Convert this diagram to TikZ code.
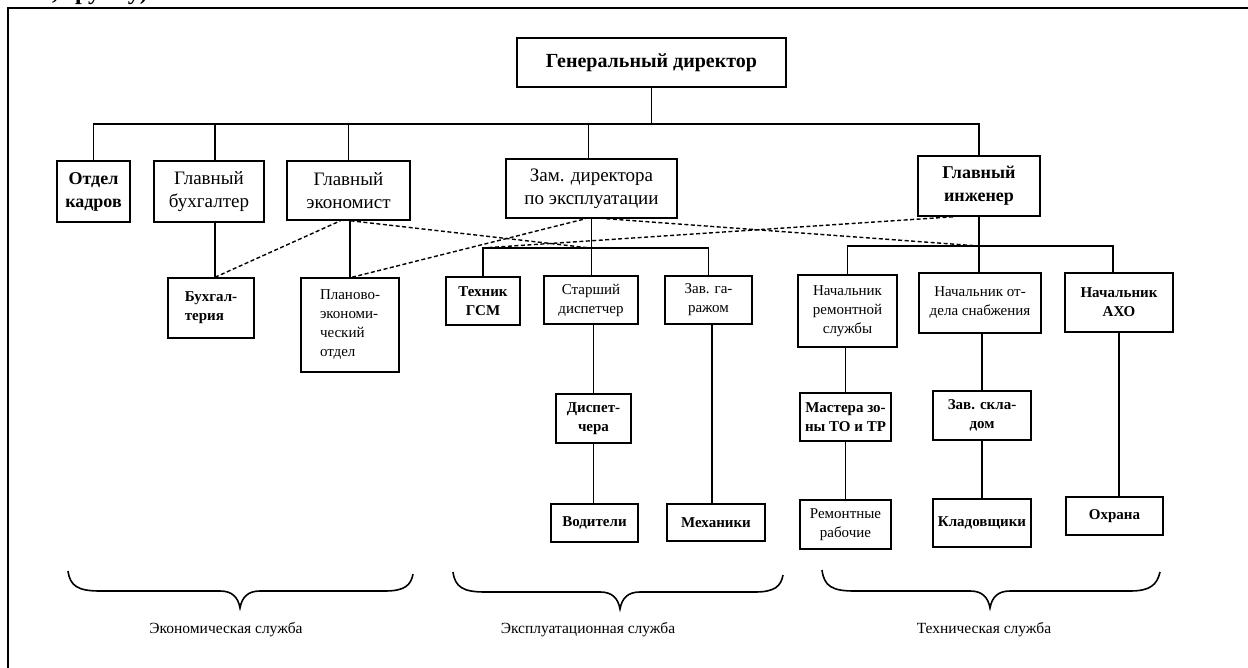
\documentclass[tikz,border=0pt]{standalone}
\usepackage{fontspec}
\setmainfont{Liberation Serif}
\begin{document}
\begin{tikzpicture}[x=1pt,y=-1pt,
  box/.style={draw, line width=1.5pt, inner sep=1pt, align=center, font=\fontsize{19}{23}\selectfont},
  bbox/.style={box, font=\bfseries\fontsize{19}{23}\selectfont},
  sbox/.style={draw, line width=1.5pt, inner sep=1pt, align=center, font=\fontsize{15}{19}\selectfont},
  bsbox/.style={sbox, font=\bfseries\fontsize{15}{19}\selectfont},
  ln/.style={line width=1.5pt},
  dl/.style={line width=1.4pt, dash pattern=on 4pt off 2.5pt},
  lbl/.style={font=\fontsize{15.5}{19}\selectfont},
  brc/.style={line width=1.6pt}]
\useasboundingbox (0,0) rectangle (1248,668);
% frame
\draw[line width=2.6pt] (8,690) -- (8,8) -- (1260,8);
\begin{scope}
\clip (0,0) rectangle (1248,6.8);
\node[anchor=base west, inner sep=0, font=\bfseries\fontsize{24}{24}\selectfont] (cut) at (52,-0.5) {, группу)};
\end{scope}

% level 0 and 1
\node[bbox, font=\bfseries\fontsize{20}{23}\selectfont, minimum width=269, minimum height=49] (gd) at (651.5,62.5) {Генеральный директор};
\node[bbox, font=\bfseries\fontsize{18}{23}\selectfont, minimum width=73, minimum height=61] (ok) at (93.5,191.5) {Отдел\\кадров};
\node[box, minimum width=110, minimum height=61] (gb) at (209,191.5) {Главный\\бухгалтер};
\node[box, minimum width=123, minimum height=59] (ge) at (348.5,190.5) {Главный\\экономист};
\node[box, minimum width=171, minimum height=59] (zd) at (591.5,188.5) {Зам. директора\\по эксплуатации};
\node[bbox, font=\bfseries\fontsize{18}{23}\selectfont, minimum width=122, minimum height=60] (gi) at (979,186) {Главный\\инженер};

% level 2
\node[bsbox, align=left, minimum width=86, minimum height=60] (bh) at (211,308) {Бухгал-\\терия};
\node[sbox, align=left, minimum width=98, minimum height=94] (pe) at (350,325) {Планово-\\экономи-\\ческий\\отдел};
\node[bsbox, minimum width=74, minimum height=48] (tg) at (483,301) {Техник\\ГСМ};
\node[sbox, minimum width=94, minimum height=48] (sd) at (591,300) {Старший\\диспетчер};
\node[sbox, minimum width=87, minimum height=48] (zg) at (708.5,300) {Зав. га-\\ражом};
\node[sbox, minimum width=99, minimum height=72] (nr) at (847.5,311) {Начальник\\ремонтной\\службы};
\node[sbox, minimum width=122, minimum height=60] (ns) at (980,303) {Начальник от-\\дела снабжения};
\node[bsbox, minimum width=108, minimum height=59] (na) at (1119,302.5) {Начальник\\АХО};

% level 3
\node[bsbox, minimum width=75, minimum height=49] (dp) at (593.5,418.5) {Диспет-\\чера};
\node[bsbox, minimum width=91, minimum height=48] (ma) at (845.5,417) {Мастера зо-\\ны ТО и ТР};
\node[bsbox, minimum width=98, minimum height=49] (zs) at (982,415.5) {Зав. скла-\\дом};

% level 4
\node[bsbox, minimum width=87, minimum height=38] (vo) at (594.5,523) {Водители};
\node[bsbox, minimum width=98, minimum height=37] (me) at (716,522.5) {Механики};
\node[sbox, minimum width=91, minimum height=49] (rr) at (845.5,524.5) {Ремонтные\\рабочие};
\node[bsbox, minimum width=98, minimum height=48] (kl) at (982,523) {Кладовщики};
\node[bsbox, minimum width=97, minimum height=38] (oh) at (1114.5,516) {Охрана};

% buses
\coordinate (bus) at (0,124);
\coordinate (zbus) at (0,248);
\coordinate (tbus) at (0,246);
\draw[ln] (gd.south) -- (gd.south |- bus);
\draw[ln] (ok.north) -- (ok.north |- bus) -- (bus -| gi.north) -- (gi.north);
\draw[ln] ([xshift=6pt]gb.north) -- ([xshift=6pt]gb.north |- bus);
\draw[ln] (ge.north) -- (ge.north |- bus);
\draw[ln] ([xshift=-3pt]zd.north) -- ([xshift=-3pt]zd.north |- bus);

\draw[ln] ([xshift=4pt]bh.north) -- ([xshift=4pt]bh.north |- gb.south);
\draw[ln] (pe.north) -- (pe.north |- ge.south);

\draw[ln] (zd.south) -- (zd.south |- sd.north);
\draw[ln] (tg.north) -- (tg.north |- zbus) -- (zbus -| zg.north) -- (zg.north);
\draw[ln] (gi.south) -- (gi.south |- ns.north);
\draw[ln] (nr.north) -- (nr.north |- tbus) -- ([xshift=-6pt]tbus -| na.north) -- ([xshift=-6pt]na.north);

\draw[ln] (dp.north) -- (dp.north |- sd.south);
\draw[ln] (dp.south) -- (dp.south |- vo.north);
\draw[ln] ([xshift=3.5pt]zg.south) -- ([xshift=3.5pt]zg.south |- me.north);
\draw[ln] (ma.north) -- (ma.north |- nr.south);
\draw[ln] (ma.south) -- (ma.south |- rr.north);
\draw[ln] (zs.north) -- (zs.north |- ns.south);
\draw[ln] (zs.south) -- (zs.south |- kl.north);
\draw[ln] (na.south) -- (na.south |- oh.north);

% dashed functional links
\coordinate (zj) at (590,248);
\coordinate (zl) at (482,248);
\coordinate (tj) at (979,246);
\draw[dl] ([xshift=4pt]bh.north) -- ([xshift=-8pt]ge.south);
\draw[dl] ([xshift=2pt]pe.north) -- ([xshift=-6pt]zd.south);
\draw[dl] ([xshift=2pt]ge.south) -- (zj);
\draw[dl] (zl) -- ([xshift=-25pt]gi.south);
\draw[dl] ([xshift=15pt]zd.south) -- (tj);

% braces
\draw[brc] (68,571) .. controls (70,586) and (78,591) .. (100,591) -- (220,591)
  .. controls (232,591) and (238,597) .. (240,608)
  .. controls (242,597) and (248,591) .. (260,591) -- (385,591)
  .. controls (405,591) and (411,585) .. (413,574);
\draw[brc] (453,572) .. controls (455,587) and (463,592) .. (485,592) -- (600,592)
  .. controls (612,592) and (618,598) .. (620,609)
  .. controls (622,598) and (628,592) .. (640,592) -- (755,592)
  .. controls (775,592) and (781,586) .. (783,575);
\draw[brc] (822,570) .. controls (824,586) and (832,591) .. (854,591) -- (970,591)
  .. controls (982,591) and (988,597) .. (990,608)
  .. controls (992,597) and (998,591) .. (1010,591) -- (1130,591)
  .. controls (1150,591) and (1157,585) .. (1160,572);

\node[lbl] (l1) at (226,630) {Экономическая служба};
\node[lbl] (l2) at (588,630) {Эксплуатационная служба};
\node[lbl] (l3) at (984,630) {Техническая служба};
\end{tikzpicture}
\end{document}
